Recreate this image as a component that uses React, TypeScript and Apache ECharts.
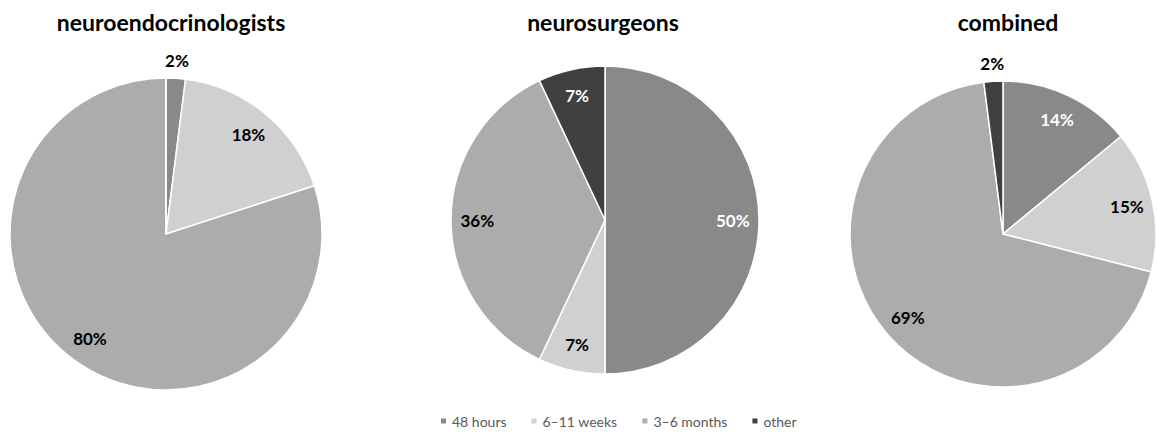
import React, { useEffect, useRef } from "react";
import * as echarts from "echarts";

const categories = ["48 hours", "6–11 weeks", "3–6 months", "other"];
const titles = ["neuroendocrinologists", "neurosurgeons", "combined"];
const neuroendocrinologists = [2, 18, 80, 0];
const neurosurgeons = [50, 7, 36, 7];
const combined = [14, 15, 69, 2];

const colors = ["#898989", "#d0d0d0", "#acacac", "#404040"];
const labelColors = ["#ffffff", "#000000", "#000000", "#ffffff"];

const FONT = "Lato, 'Open Sans', sans-serif";

export default function App() {
  const ref = useRef<HTMLDivElement>(null);

  useEffect(() => {
    document.body.style.margin = "0";
    if (!ref.current) return;
    const chart = echarts.init(ref.current, undefined, { renderer: "svg" });

    const datasets = [neuroendocrinologists, neurosurgeons, combined];
    const centers: [number, number][] = [
      [166, 234],
      [605, 220],
      [1003, 234],
    ];
    const radii = [156, 154, 153];
    const titleX = [166, 598, 1003];

    const series: any[] = [];
    datasets.forEach((vals, k) => {
      series.push({
        type: "pie",
        name: titles[k],
        center: centers[k],
        radius: [0, radii[k]],
        startAngle: 90,
        clockwise: true,
        silent: true,
        label: { show: false },
        labelLine: { show: false },
        itemStyle: { borderColor: "#ffffff", borderWidth: 1.5 },
        emphasis: { disabled: true },
        data: vals.map((v, i) => ({
          name: categories[i],
          value: v,
          itemStyle: { color: colors[i] },
        })),
      });
    });
    datasets.forEach((vals, k) => {
      // inside labels
      series.push({
        type: "pie",
        name: titles[k] + "-in",
        center: centers[k],
        radius: [radii[k] * 0.62, radii[k]],
        startAngle: 90,
        silent: true,
        emphasis: { disabled: true },
        itemStyle: { color: "transparent", borderWidth: 0 },
        labelLine: { show: false },
        label: {
          show: true,
          position: "inside",
          fontFamily: FONT,
          fontWeight: "bold",
          fontSize: 17,
          formatter: (p: any) => (p.value >= 5 ? p.value + "%" : ""),
        },
        data: vals.map((v, i) => ({
          name: categories[i],
          value: v,
          label: { color: labelColors[i] },
        })),
      });
      // outside labels for small slices
      series.push({
        type: "pie",
        name: titles[k] + "-out",
        center: centers[k],
        radius: [radii[k], radii[k] + 30],
        startAngle: 90,
        silent: true,
        emphasis: { disabled: true },
        itemStyle: { color: "transparent", borderWidth: 0 },
        labelLine: { show: false },
        label: {
          show: true,
          position: "inside",
          fontFamily: FONT,
          fontWeight: "bold",
          fontSize: 17,
          color: "#000000",
          formatter: (p: any) =>
            p.value > 0 && p.value < 5 ? p.value + "%" : "",
        },
        data: vals.map((v, i) => ({ name: categories[i], value: v })),
      });
    });

    chart.setOption({
      animation: false,
      backgroundColor: "#ffffff",
      title: titles.map((t, k) => ({
        text: t,
        left: titleX[k],
        top: 5,
        textAlign: "center",
        textStyle: {
          fontFamily: FONT,
          fontWeight: "bold",
          fontSize: 23,
          color: "#000000",
        },
      })),
      legend: {
        data: categories.map((c, i) => ({
          name: c,
          itemStyle: { color: colors[i] },
        })),
        left: 434,
        top: 409,
        icon: "rect",
        itemWidth: 7,
        itemHeight: 7,
        itemGap: 23,
        selectedMode: false,
        textStyle: { fontFamily: FONT, fontSize: 14, color: "#595959" },
      },
      series,
    });

    return () => chart.dispose();
  }, []);

  return (
    <div
      ref={ref}
      style={{ width: 1157, height: 437, position: "absolute", left: 0, top: 0 }}
    />
  );
}
